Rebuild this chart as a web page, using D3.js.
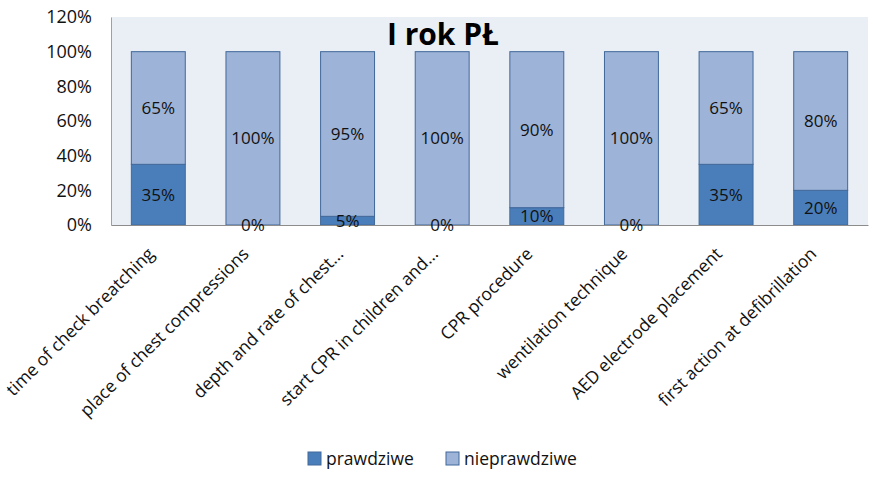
<!DOCTYPE html>
<html>
<head>
<meta charset="utf-8">
<style>
	body { margin: 0; background: #fff; }
	text { font-family: "Open Sans", sans-serif; fill: #111; }
</style>
</head>
<body>
<svg width="873" height="477"></svg>
<script src="https://d3js.org/d3.v7.min.js"></script>
<script>
	const categories = [
		"time of check breatching",
		"place of chest compressions",
		"depth and rate of chest...",
		"start CPR in children and...",
		"CPR procedure",
		"wentilation technique",
		"AED electrode placement",
		"first action at defibrillation",
	];
	const prawdziwe = [35, 0, 5, 0, 10, 0, 35, 20];
	const nieprawdziwe = [65, 100, 95, 100, 90, 100, 65, 80];
	const seriesNames = ["prawdziwe", "nieprawdziwe"];
	const yTicks = [0, 20, 40, 60, 80, 100, 120];

	const svg = d3.select("svg");
	const margin = { top: 17, right: 5, bottom: 252, left: 111 }; // plot area
	const width = +svg.attr("width") - margin.left - margin.right;
	const height = +svg.attr("height") - margin.top - margin.bottom;

	const colors = ["#4A7EBB", "#9DB3D7"];

	const rows = categories.map((c, i) => ({ cat: c, prawdziwe: prawdziwe[i], nieprawdziwe: nieprawdziwe[i] }));
	const stacked = d3.stack().keys(seriesNames)(rows);

	const x = d3.scaleBand().domain(categories).range([0, width]).paddingInner(0.43).paddingOuter(0.215);
	const y = d3.scaleLinear().domain([0, 120]).range([height, 0]);

	const g = svg.append("g").attr("transform", "translate(" + margin.left + "," + margin.top + ")");

	// plot background
	g.append("rect")
		.attr("width", width)
		.attr("height", height)
		.attr("fill", "#EAEEF5");

	// bars
	const sg = g.selectAll("g.series")
		.data(stacked)
		.join("g")
		.attr("class", "series")
		.attr("fill", (d, i) => colors[i]);

	sg.selectAll("rect")
		.data((d) => d)
		.join("rect")
		.attr("x", (d) => x(d.data.cat))
		.attr("y", (d) => y(d[1]))
		.attr("width", x.bandwidth())
		.attr("height", (d) => y(d[0]) - y(d[1]))
		.attr("stroke", "#41689A")
		.attr("stroke-width", 1);

	// axes
	const yAxis = g.append("g")
		.call(d3.axisLeft(y).tickValues(yTicks).tickSize(0).tickPadding(19).tickFormat((d) => d + "%"));
	yAxis.select(".domain").attr("stroke", "#A0A0A0");
	yAxis.selectAll("text").style("font-size", "18px").attr("fill", "#111");

	const xAxis = g.append("g")
		.attr("transform", "translate(0," + height + ")")
		.call(d3.axisBottom(x).tickSize(0).tickSizeOuter(0));
	xAxis.select(".domain").attr("stroke", "#8C8C8C");
	xAxis.selectAll("text")
		.style("font-size", "17.5px")
		.attr("fill", "#111")
		.attr("text-anchor", "end")
		.attr("y", 0)
		.attr("dy", "0")
		.attr("transform", "translate(-3,30) rotate(-45)");

	// data labels (on top of all bars)
	const labels = stacked.flatMap((s) => s.map((v) => ({ v: v, key: s.key })));
	g.append("g").selectAll("text")
		.data(labels)
		.join("text")
		.attr("x", (d) => x(d.v.data.cat) + x.bandwidth() / 2)
		.attr("y", (d) => y((d.v[0] + d.v[1]) / 2))
		.attr("dy", "0.36em")
		.attr("text-anchor", "middle")
		.style("font-size", "17px")
		.text((d) => d.v.data[d.key] + "%");

	// title
	svg.append("text")
		.attr("x", 443)
		.attr("y", 45)
		.attr("text-anchor", "middle")
		.style("font-size", "30px")
		.style("font-weight", "bold")
		.style("fill", "#000")
		.text("I rok PŁ");

	// legend
	const legendX = [308, 446];
	const lg = svg.append("g").selectAll("g")
		.data(seriesNames)
		.join("g")
		.attr("transform", (d, i) => "translate(" + legendX[i] + ",452)");
	lg.append("rect")
		.attr("width", 13)
		.attr("height", 13)
		.attr("fill", (d, i) => colors[i])
		.attr("stroke", "#41689A");
	lg.append("text")
		.attr("x", 18)
		.attr("y", 6.5)
		.attr("dy", "0.36em")
		.style("font-size", "17.5px")
		.text((d) => d);
</script>
</body>
</html>
